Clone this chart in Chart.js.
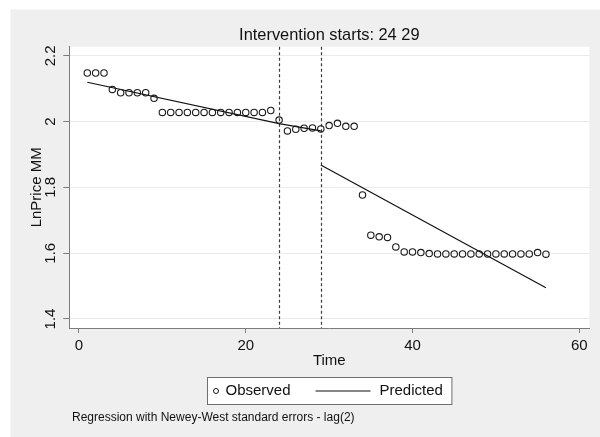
<!DOCTYPE html>
<html lang="en">
<head>
<meta charset="UTF-8">
<title>Intervention starts: 24 29</title>
<style>
  html, body { margin: 0; padding: 0; background: #fff; }
  canvas { display: block; }
</style>
</head>
<body>
<canvas id="chart" width="600" height="437"></canvas>

<script src="https://cdn.jsdelivr.net/npm/chart.js"></script>
<script>
// observed series
const time = [1, 2, 3, 4, 5, 6, 7, 8, 9, 10, 11, 12, 13, 14, 15, 16, 17, 18, 19, 20,
              21, 22, 23, 24, 25, 26, 27, 28, 29, 30, 31, 32, 33, 34, 35, 36, 37, 38, 39, 40,
              41, 42, 43, 44, 45, 46, 47, 48, 49, 50, 51, 52, 53, 54, 55, 56];
const lnPrice = [2.148, 2.148, 2.148, 2.098, 2.088, 2.088, 2.088, 2.088, 2.071, 2.028,
                 2.028, 2.028, 2.028, 2.028, 2.028, 2.028, 2.028, 2.028, 2.028, 2.028,
                 2.028, 2.028, 2.034, 2.005, 1.972, 1.977, 1.980, 1.981, 1.978, 1.988,
                 1.995, 1.986, 1.986, 1.777, 1.655, 1.650, 1.648, 1.619, 1.604, 1.604,
                 1.602, 1.599, 1.598, 1.598, 1.598, 1.598, 1.598, 1.598, 1.598, 1.598,
                 1.598, 1.598, 1.598, 1.598, 1.602, 1.597];

// fitted segments, before and after the second intervention
const predTime1 = [1, 24, 29];
const predValue1 = [2.120, 1.994, 1.972];
const predTime2 = [29, 56];
const predValue2 = [1.868, 1.495];

const interventions = [24, 29];
const xTicks = [0, 20, 40, 60];
const yTicks = [1.4, 1.6, 1.8, 2, 2.2];

const chartTitle = 'Intervention starts: ' + interventions.join(' ');
const noteText = 'Regression with Newey-West standard errors - lag(2)';

const FONT = '"Liberation Sans", Arial, sans-serif';
const TEXT = '#111';
const AXIS = '#7c7c7c';

Chart.defaults.font.family = FONT;
Chart.defaults.color = TEXT;

const predicted = predTime1.map((t, i) => ({x: t, y: predValue1[i]}))
  .concat([{x: predTime2[0], y: null}])
  .concat(predTime2.map((t, i) => ({x: t, y: predValue2[i]})));

// grey graph region, white plot region, xlines, title, legend and note
const stataFrame = {
  id: 'stataFrame',
  beforeDraw(chart) {
    const {ctx, chartArea: a} = chart;
    ctx.save();
    ctx.fillStyle = '#fff';
    ctx.fillRect(0, 0, chart.width, chart.height);
    ctx.fillStyle = '#efefef';
    ctx.fillRect(10.5, 9.5, chart.width - 10.5, chart.height - 9.5);
    ctx.fillStyle = '#fff';
    ctx.fillRect(a.left, a.top, a.right - a.left, a.bottom - a.top);
    ctx.restore();
  },
  beforeDatasetsDraw(chart) {
    const {ctx, chartArea: a, scales: {x}} = chart;
    ctx.save();
    ctx.strokeStyle = '#3a3a3a';
    ctx.lineWidth = 1.2;
    ctx.setLineDash([3, 2.5]);
    interventions.forEach(t => {
      const px = Math.round(x.getPixelForValue(t)) + 0.5;
      ctx.beginPath();
      ctx.moveTo(px, a.top);
      ctx.lineTo(px, a.bottom);
      ctx.stroke();
    });
    ctx.restore();
  },
  afterDraw(chart) {
    const {ctx, chartArea: a} = chart;
    const cx = (a.left + a.right) / 2;
    ctx.save();
    ctx.fillStyle = TEXT;
    ctx.textBaseline = 'middle';

    ctx.font = '16.4px ' + FONT;
    ctx.textAlign = 'center';
    ctx.fillText(chartTitle, cx, 35);

    // legend box
    ctx.font = '15px ' + FONT;
    ctx.textAlign = 'left';
    const [obs, pred] = chart.data.datasets;
    const w1 = ctx.measureText(obs.label).width;
    const w2 = ctx.measureText(pred.label).width;
    const lineLen = 55;
    const boxW = 6 + 5 + 7 + w1 + 25 + lineLen + 9 + w2 + 9;
    const boxL = Math.round(cx - boxW / 2) + 0.5;
    const boxT = 377.5, boxH = 27, midY = boxT + boxH / 2;
    ctx.fillStyle = '#fff';
    ctx.fillRect(boxL, boxT, boxW, boxH);
    ctx.strokeStyle = '#6e6e6e';
    ctx.lineWidth = 1;
    ctx.strokeRect(boxL, boxT, boxW, boxH);

    let px = boxL + 6 + 2.5;
    ctx.strokeStyle = obs.pointBorderColor;
    ctx.lineWidth = 1;
    ctx.beginPath();
    ctx.arc(px, midY, 2.5, 0, Math.PI * 2);
    ctx.stroke();
    px += 2.5 + 7;
    ctx.fillStyle = TEXT;
    ctx.fillText(obs.label, px, midY);
    px += w1 + 25;
    ctx.strokeStyle = pred.borderColor;
    ctx.lineWidth = pred.borderWidth;
    ctx.beginPath();
    ctx.moveTo(px, midY);
    ctx.lineTo(px + lineLen, midY);
    ctx.stroke();
    px += lineLen + 9;
    ctx.fillText(pred.label, px, midY);

    ctx.font = '12px ' + FONT;
    ctx.fillText(noteText, 72, 418);
    ctx.restore();
  }
};

new Chart(document.getElementById('chart'), {
  type: 'scatter',
  data: {
    datasets: [{
      label: 'Observed',
      data: time.map((t, i) => ({x: t, y: lnPrice[i]})),
      showLine: false,
      pointStyle: 'circle',
      pointRadius: 3.2,
      pointBorderWidth: 1.1,
      pointBorderColor: '#1a1a1a',
      pointBackgroundColor: 'rgba(0,0,0,0)'
    }, {
      label: 'Predicted',
      data: predicted,
      showLine: true,
      spanGaps: false,
      borderColor: '#111',
      borderWidth: 1.2,
      pointRadius: 0
    }]
  },
  options: {
    responsive: false,
    animation: false,
    events: [],
    layout: { padding: { left: 0, top: 46.7, right: 10.7, bottom: 67 } },
    plugins: {
      legend: { display: false },
      title: { display: false },
      tooltip: { enabled: false }
    },
    scales: {
      x: {
        type: 'linear',
        min: -1.16,
        max: 61.2,
        afterBuildTicks: s => { s.ticks = xTicks.map(v => ({value: v})); },
        afterFit: s => { s.height = 42; },
        border: { color: AXIS, width: 1 },
        grid: { drawOnChartArea: false, tickColor: AXIS, tickLength: 5 },
        ticks: { padding: 4, maxRotation: 0, autoSkip: false, font: { size: 15 }, color: TEXT },
        title: { display: true, text: 'Time', font: { size: 15 }, color: TEXT, padding: 0 }
      },
      y: {
        min: 1.3726,
        max: 2.228,
        afterBuildTicks: s => { s.ticks = yTicks.map(v => ({value: v})); },
        afterFit: s => { s.width = 69.3; },
        border: { color: AXIS, width: 1 },
        grid: { color: '#ebebeb', tickColor: AXIS, tickLength: 6 },
        ticks: {
          minRotation: 90, maxRotation: 90, crossAlign: 'center', padding: 2,
          font: { size: 15 }, color: TEXT,
          callback: v => String(v)
        },
        title: { display: true, text: 'LnPrice MM', font: { size: 15 }, color: TEXT, padding: { top: 27.7 } }
      }
    }
  },
  plugins: [stataFrame]
});
</script>
</body>
</html>
